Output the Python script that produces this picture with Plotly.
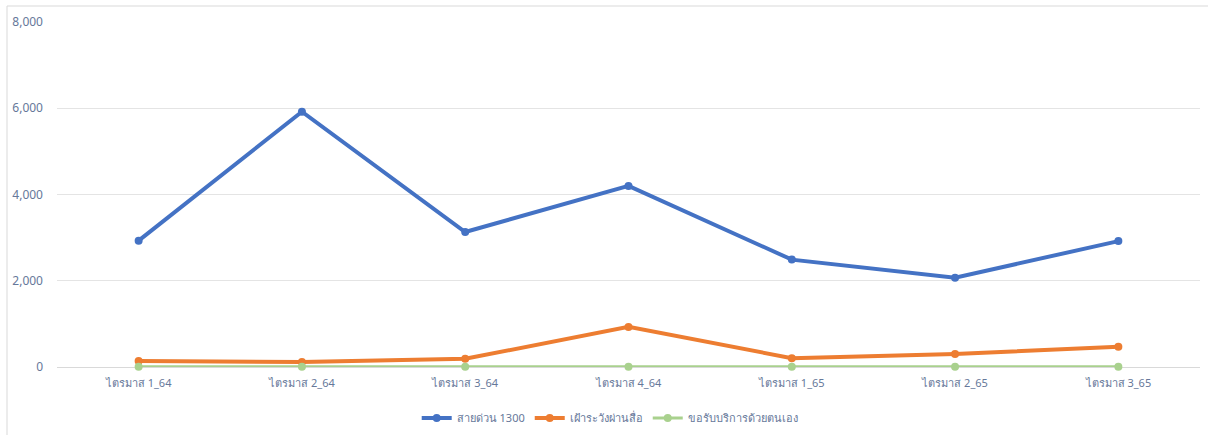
import plotly.graph_objects as go

categories = ["ไตรมาส 1_64", "ไตรมาส 2_64", "ไตรมาส 3_64", "ไตรมาส 4_64",
              "ไตรมาส 1_65", "ไตรมาส 2_65", "ไตรมาส 3_65"]
hotline_1300 = [2930, 5920, 3130, 4200, 2490, 2070, 2920]
media_watch = [140, 115, 190, 930, 205, 300, 470]
self_service = [5, 5, 5, 5, 5, 5, 5]
series_names = ["สายด่วน 1300", "เฝ้าระวังผ่านสื่อ", "ขอรับบริการด้วยตนเอง"]
y_ticks = [0, 2000, 4000, 6000, 8000]

W, H = 1208, 435
ML, MR, MT, MB = 57, 8, 22, 68
pw, ph = W - ML - MR, H - MT - MB

font_fam = "Tahoma, 'Noto Sans', 'DejaVu Sans', sans-serif"
txt_col = "#66789a"

fig = go.Figure()
for name, vals, col, lw in [
    (series_names[0], hotline_1300, "#4472C4", 4),
    (series_names[1], media_watch, "#ED7D31", 4),
    (series_names[2], self_service, "#A9D18E", 3),
]:
    fig.add_trace(go.Scatter(
        x=categories, y=vals, name=name, mode="lines+markers",
        line=dict(color=col, width=lw),
        marker=dict(color=col, size=8),
        cliponaxis=False,
    ))

# outer chart border (top & left)
fig.add_shape(type="line", xref="paper", yref="paper",
              x0=(7 - ML) / pw, x1=(W + 5 - ML) / pw,
              y0=1 + (MT - 6) / ph, y1=1 + (MT - 6) / ph,
              line=dict(color="#d9d9d9", width=1))
fig.add_shape(type="line", xref="paper", yref="paper",
              x0=(7 - ML) / pw, x1=(7 - ML) / pw,
              y0=1 + (MT - 6) / ph, y1=-(MB + 5) / ph,
              line=dict(color="#d9d9d9", width=1))

fig.update_layout(
    width=W, height=H,
    margin=dict(l=ML, r=MR, t=MT, b=MB, autoexpand=False),
    paper_bgcolor="white", plot_bgcolor="white",
    font=dict(family=font_fam, size=12, color=txt_col),
    showlegend=True,
    legend=dict(orientation="h", x=0.484, xanchor="center",
                y=-(418 - MT - ph) / ph, yanchor="middle",
                font=dict(size=11, color=txt_col),
                itemwidth=30, tracegroupgap=0),
    xaxis=dict(range=[-0.5, 6.5], showgrid=False, zeroline=False,
               showline=False, ticks="", tickfont=dict(size=11, color=txt_col),
               ticklabelstandoff=8,
               automargin=False, fixedrange=True),
    yaxis=dict(range=[0, 8000], tickvals=y_ticks, tickformat=",",
               showgrid=True, gridcolor="#e4e4e4", gridwidth=1,
               zeroline=True, zerolinecolor="#d9d9d9", zerolinewidth=1,
               showline=False, ticks="", ticklabelstandoff=13,
               automargin=False,
               tickfont=dict(size=12, color=txt_col), fixedrange=True),
)

fig.write_html("out.html", config={"displayModeBar": False},
               post_script="document.body.style.margin='0';document.body.style.overflow='hidden';")
